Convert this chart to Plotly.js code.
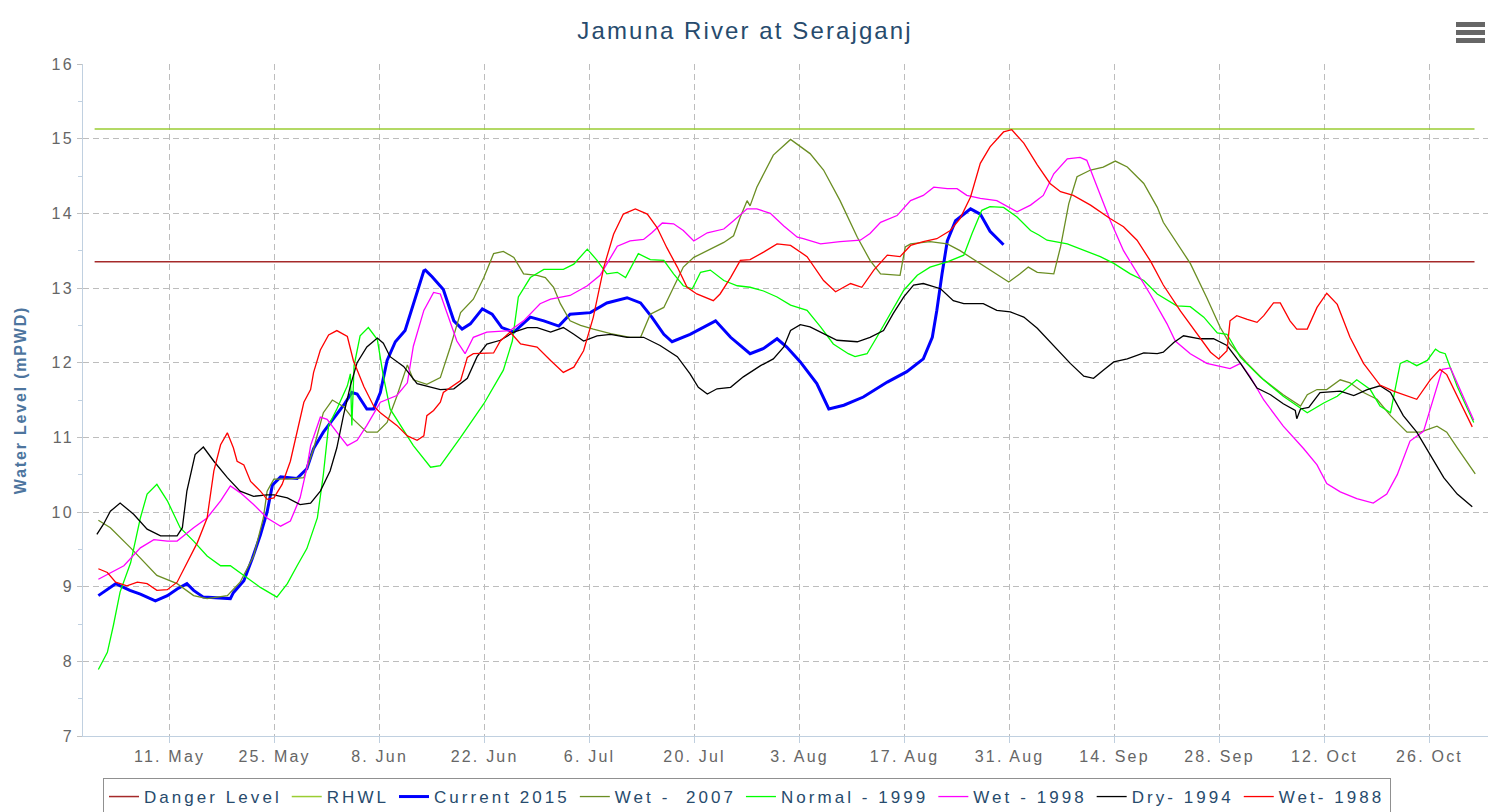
<!DOCTYPE html>
<html><head><meta charset="utf-8">
<script src="https://cdn.plot.ly/plotly-3.0.1.min.js"></script>
<style>
html,body{margin:0;padding:0;background:#fff;}
#chart{width:1499px;height:812px;}
.gtitle{letter-spacing:2.1px;}
.xtick text,.ytick text{letter-spacing:2.2px;}
.legendtext{letter-spacing:3.05px;}
.ytitle{letter-spacing:1.8px;}
</style></head><body><div id="chart"></div><script>
// Days counted from 1 May 2015; water levels in mPWD
const dangerLevel = 13.35;
const rhwlLevel = 15.13;
const refLineDays = [0, 184];

const tickDates = ['2015-05-11','2015-05-25','2015-06-08','2015-06-22','2015-07-06','2015-07-20','2015-08-03','2015-08-17','2015-08-31','2015-09-14','2015-09-28','2015-10-12','2015-10-26'];
const tickLabels = ['11. May','25. May','8. Jun','22. Jun','6. Jul','20. Jul','3. Aug','17. Aug','31. Aug','14. Sep','28. Sep','12. Oct','26. Oct'];

const dayCurrent2015 = [0.5,2.8,4.7,6.1,8.1,9.7,11.0,12.3,13.2,14.5,18.1,18.5,19.9,21.0,22.1,23.0,23.7,24.8,27.0,28.3,29.2,30.5,33.2,34.3,35.0,36.3,37.2,38.1,39.0,40.1,41.4,42.5,43.9,44.1,45.0,46.5,47.9,49.0,50.1,51.7,53.0,54.3,55.9,58.1,59.9,61.9,63.4,66.1,68.3,71.0,72.8,74.3,75.9,77.0,79.4,82.8,84.8,87.4,89.2,91.0,92.3,94.1,96.3,97.9,99.9,102.5,105.7,108.3,110.5,111.7,112.3,113.0,113.7,114.8,116.8,118.1,119.4,121.2];
const levelCurrent2015 = [8.88,9.04,8.95,8.9,8.81,8.88,8.97,9.04,8.95,8.86,8.84,8.92,9.08,9.37,9.69,10.0,10.36,10.47,10.45,10.58,10.85,11.07,11.43,11.6,11.58,11.38,11.38,11.6,12.03,12.28,12.43,12.79,13.23,13.24,13.15,12.98,12.56,12.45,12.52,12.72,12.65,12.47,12.41,12.61,12.56,12.49,12.65,12.67,12.8,12.87,12.8,12.61,12.38,12.28,12.38,12.56,12.34,12.12,12.19,12.32,12.21,12.01,11.72,11.38,11.43,11.54,11.74,11.88,12.05,12.34,12.7,13.19,13.63,13.9,14.06,13.99,13.76,13.58];

const dayWet2007 = [0.5,2.1,4.8,6.5,8.3,11.0,13.2,15.0,17.7,19.4,21.2,22.5,23.0,23.9,25.7,27.9,29.2,30.5,31.7,33.2,34.5,36.3,37.7,39.0,40.3,41.7,42.5,44.3,46.1,47.4,48.8,50.5,51.9,53.2,54.5,55.9,57.2,59.0,60.1,61.2,62.1,63.4,64.8,66.5,68.8,71.4,72.8,74.1,75.9,77.2,78.5,79.9,81.7,83.9,85.2,86.1,87.0,87.4,88.3,88.8,90.5,92.8,95.4,97.2,99.4,101.7,103.4,104.8,107.4,108.1,108.8,111.4,113.7,115.4,117.7,119.9,121.9,123.4,124.5,125.7,127.9,128.8,129.9,131.0,132.8,134.5,136.1,137.7,139.9,141.7,142.5,146.1,148.3,150.1,151.4,153.7,155.9,158.5,160.8,161.7,163.0,164.3,166.1,167.4,169.2,171.0,172.8,175.0,176.8,179.0,180.3,181.7,184.1];
const levelWet2007 = [9.89,9.79,9.52,9.34,9.15,9.04,8.88,8.84,8.88,9.06,9.41,9.92,10.28,10.44,10.44,10.46,10.85,11.33,11.5,11.41,11.24,11.07,11.07,11.2,11.55,11.97,11.77,11.71,11.8,12.2,12.67,12.85,13.14,13.46,13.49,13.41,13.19,13.17,13.14,13.01,12.79,12.56,12.5,12.45,12.39,12.34,12.34,12.65,12.74,13.01,13.28,13.41,13.5,13.61,13.7,13.95,14.17,14.1,14.35,14.45,14.78,14.99,14.8,14.58,14.17,13.68,13.37,13.19,13.17,13.55,13.59,13.62,13.59,13.5,13.35,13.21,13.08,13.19,13.28,13.21,13.19,13.55,14.13,14.49,14.58,14.62,14.7,14.62,14.4,14.08,13.88,13.33,12.87,12.47,12.25,11.99,11.77,11.57,11.42,11.57,11.64,11.64,11.77,11.73,11.6,11.51,11.29,11.07,11.07,11.15,11.07,10.86,10.51];

const dayNormal1999 = [0.5,1.7,2.5,3.4,4.8,6.1,7.0,8.3,9.7,11.4,13.2,15.0,16.8,18.1,19.9,22.1,24.3,25.7,27.0,28.3,29.7,30.5,31.2,32.3,33.7,34.1,34.3,34.6,35.4,36.5,37.7,38.5,39.4,40.8,42.5,44.8,46.1,48.8,51.9,54.5,55.7,56.5,58.1,59.9,62.5,63.9,65.7,67.0,68.3,69.7,70.8,72.5,74.1,75.9,77.2,78.5,79.7,80.8,82.1,83.9,85.7,87.4,89.2,91.0,92.8,95.0,96.8,98.5,100.5,101.4,103.0,104.3,106.1,107.9,109.7,111.4,113.7,115.9,117.0,118.3,119.4,121.2,123.0,124.8,125.9,127.0,129.7,131.9,134.1,135.9,138.1,139.9,141.7,144.3,146.1,147.9,149.7,151.0,152.8,155.4,158.5,161.7,163.9,165.7,168.3,170.1,171.4,172.8,174.1,175.0,176.3,177.7,178.8,179.4,180.1,181.7,183.9];
const levelNormal1999 = [7.89,8.12,8.48,8.93,9.32,9.92,10.24,10.37,10.15,9.79,9.61,9.41,9.28,9.28,9.15,8.99,8.86,9.04,9.28,9.51,9.92,10.5,11.16,11.38,11.69,11.85,11.16,11.96,12.36,12.47,12.31,11.82,11.38,11.16,10.89,10.6,10.62,11.0,11.45,11.9,12.29,12.88,13.14,13.25,13.25,13.32,13.52,13.37,13.19,13.21,13.14,13.46,13.38,13.37,13.19,13.03,12.99,13.21,13.24,13.1,13.03,13.01,12.96,12.88,12.77,12.7,12.48,12.25,12.12,12.08,12.12,12.34,12.66,12.97,13.17,13.28,13.35,13.44,13.73,14.04,14.09,14.08,13.95,13.77,13.71,13.64,13.59,13.5,13.42,13.33,13.19,13.1,12.92,12.76,12.75,12.61,12.4,12.38,12.07,11.81,11.55,11.33,11.46,11.55,11.77,11.64,11.42,11.33,11.99,12.03,11.96,12.03,12.18,12.14,12.12,11.68,11.2];

const dayWet1998 = [0.5,2.1,3.9,6.1,7.9,9.7,11.0,13.2,15.0,16.8,18.1,19.4,21.2,23.0,24.8,26.1,27.4,28.3,28.8,30.1,31.0,32.3,33.7,35.0,36.3,38.1,40.3,41.7,42.5,43.9,45.2,46.1,47.4,48.3,49.4,50.5,52.3,55.4,57.2,59.4,60.8,63.4,65.7,67.4,69.7,71.4,73.2,74.3,75.7,77.2,78.5,79.9,81.7,83.9,85.2,87.0,88.3,90.1,91.9,93.7,94.5,96.8,99.4,102.1,103.4,104.8,107.0,108.8,110.5,111.9,113.7,115.0,116.3,118.1,120.3,123.0,124.8,126.5,127.9,129.7,131.4,132.3,133.7,135.4,137.2,139.4,140.8,143.0,144.1,146.1,148.3,151.4,152.8,154.1,155.9,158.5,161.2,163.0,164.3,166.1,168.3,170.5,172.3,173.7,175.4,177.2,178.1,179.0,179.7,180.8,182.1,183.9];
const levelWet1998 = [9.1,9.19,9.28,9.52,9.63,9.61,9.61,9.79,9.92,10.15,10.35,10.26,10.1,9.92,9.81,9.88,10.19,10.59,10.89,11.27,11.24,11.07,10.89,10.96,11.16,11.47,11.56,11.73,12.22,12.7,12.94,12.92,12.56,12.29,12.12,12.34,12.41,12.43,12.56,12.79,12.85,12.9,13.03,13.17,13.56,13.63,13.65,13.74,13.87,13.86,13.77,13.63,13.74,13.79,13.9,14.06,14.06,14.0,13.83,13.68,13.66,13.59,13.62,13.64,13.73,13.88,13.97,14.17,14.24,14.35,14.33,14.33,14.24,14.2,14.17,14.02,14.11,14.24,14.53,14.73,14.75,14.71,14.35,13.91,13.5,13.15,12.91,12.52,12.29,12.12,11.99,11.92,11.99,11.81,11.5,11.15,10.85,10.63,10.38,10.27,10.18,10.12,10.24,10.5,10.95,11.08,11.38,11.69,11.91,11.93,11.64,11.23];

const dayDry1994 = [0.3,1.2,2.1,3.4,5.2,7.0,8.8,11.0,11.7,12.3,13.4,14.5,15.9,17.7,19.4,21.2,23.0,23.9,25.7,27.4,28.8,30.1,31.4,32.3,33.2,34.1,35.0,36.3,37.7,38.5,39.4,41.2,43.0,45.2,46.1,47.9,49.7,51.0,52.3,54.1,55.9,57.7,59.0,60.8,62.5,63.9,65.2,67.0,68.8,71.0,73.2,75.4,77.7,79.4,80.5,81.7,83.0,84.8,86.5,88.8,90.5,91.9,92.8,94.1,95.4,97.2,99.0,101.7,103.4,105.2,106.5,107.9,109.2,110.5,112.8,114.5,115.9,118.5,120.3,122.1,123.9,125.7,127.9,130.1,131.9,133.2,134.5,135.9,137.7,139.9,141.7,142.5,143.9,145.2,147.4,149.2,151.0,152.8,155.0,156.8,158.5,160.1,160.3,160.8,161.9,163.4,166.1,167.9,169.7,171.4,172.8,174.5,176.3,178.1,179.9,181.7,183.7];
const levelDry1994 = [9.7,9.84,10.01,10.12,9.97,9.77,9.68,9.68,9.79,10.28,10.77,10.87,10.68,10.46,10.28,10.21,10.23,10.23,10.19,10.1,10.12,10.28,10.55,10.86,11.3,11.69,12.0,12.21,12.33,12.26,12.08,11.95,11.72,11.66,11.64,11.65,11.79,12.08,12.25,12.3,12.41,12.47,12.47,12.41,12.47,12.38,12.29,12.36,12.38,12.34,12.34,12.23,12.08,11.85,11.67,11.58,11.65,11.67,11.81,11.96,12.05,12.21,12.43,12.51,12.48,12.39,12.3,12.28,12.34,12.43,12.66,12.88,13.04,13.06,12.99,12.83,12.79,12.79,12.7,12.68,12.61,12.46,12.23,11.99,11.82,11.79,11.9,12.01,12.05,12.13,12.12,12.14,12.27,12.36,12.32,12.32,12.23,11.99,11.66,11.57,11.45,11.36,11.25,11.38,11.4,11.6,11.62,11.56,11.64,11.69,11.6,11.29,11.07,10.77,10.46,10.24,10.07];

const dayWet1988 = [0.5,1.7,2.8,4.3,5.7,7.0,8.3,9.7,11.0,12.3,13.7,15.0,15.9,16.8,17.7,18.5,19.0,19.9,20.8,22.1,23.0,23.9,25.0,26.1,27.0,27.9,28.8,29.2,30.1,31.2,32.3,33.7,34.5,35.9,37.2,38.1,40.3,41.7,43.0,43.9,44.3,45.2,46.1,46.5,48.8,49.7,50.5,53.2,54.1,55.4,56.8,59.0,60.8,62.5,63.9,65.2,66.5,67.9,69.2,70.5,72.1,73.7,75.0,76.3,77.7,79.0,80.3,82.5,83.4,84.8,86.1,87.4,89.2,91.0,92.8,95.0,97.2,98.8,100.8,102.3,103.9,105.7,107.4,108.8,110.5,112.3,114.1,115.4,116.8,118.1,119.4,121.2,122.3,123.9,125.7,127.4,128.8,130.5,132.8,135.4,137.2,139.0,140.8,142.5,144.8,147.0,148.8,149.9,151.0,151.4,152.3,153.7,155.0,155.9,157.2,158.1,159.4,160.3,161.7,163.0,164.3,165.7,167.4,169.2,171.4,173.2,175.0,176.3,178.1,179.4,180.3,182.1,183.7];
const levelWet1988 = [9.24,9.19,9.06,9.01,9.06,9.04,8.95,8.96,9.06,9.32,9.59,9.92,10.55,10.9,11.06,10.86,10.68,10.63,10.41,10.28,10.17,10.19,10.37,10.68,11.07,11.47,11.64,11.87,12.17,12.37,12.43,12.35,12.03,11.68,11.42,11.33,11.16,11.02,10.96,11.02,11.29,11.36,11.47,11.6,11.76,12.07,12.12,12.13,12.29,12.41,12.25,12.21,12.03,11.87,11.94,12.16,12.61,13.28,13.72,13.99,14.06,13.99,13.81,13.54,13.28,13.01,12.92,12.83,12.92,13.14,13.37,13.38,13.48,13.59,13.57,13.42,13.1,12.95,13.06,13.01,13.24,13.44,13.42,13.57,13.62,13.66,13.77,13.93,14.22,14.67,14.89,15.09,15.12,14.94,14.65,14.4,14.29,14.24,14.11,13.93,13.82,13.64,13.36,13.04,12.69,12.38,12.14,12.05,12.16,12.56,12.63,12.58,12.54,12.63,12.8,12.8,12.56,12.45,12.45,12.74,12.93,12.78,12.34,11.99,11.7,11.62,11.55,11.51,11.77,11.91,11.84,11.47,11.14];

const baseTime = Date.UTC(2015, 4, 1);
function dayToDate(d) {
  const t = new Date(baseTime + d * 86400000);
  return t.toISOString().slice(0, 16).replace('T', ' ');
}

const FONT = '"Liberation Sans", Arial, Helvetica, sans-serif';

const seriesDefs = [
  {name: 'Danger Level', days: refLineDays, levels: refLineDays.map(() => dangerLevel), color: '#A52A2A', width: 1.5},
  {name: 'RHWL', days: refLineDays, levels: refLineDays.map(() => rhwlLevel), color: '#9ACD32', width: 1.5},
  {name: 'Current 2015', days: dayCurrent2015, levels: levelCurrent2015, color: '#0000FF', width: 3},
  {name: 'Wet -  2007', days: dayWet2007, levels: levelWet2007, color: '#6B8E23', width: 1.3},
  {name: 'Normal - 1999', days: dayNormal1999, levels: levelNormal1999, color: '#00FF00', width: 1.3},
  {name: 'Wet - 1998', days: dayWet1998, levels: levelWet1998, color: '#FF00FF', width: 1.3},
  {name: 'Dry- 1994', days: dayDry1994, levels: levelDry1994, color: '#000000', width: 1.3},
  {name: 'Wet- 1988', days: dayWet1988, levels: levelWet1988, color: '#FF0000', width: 1.3}
];

const traces = seriesDefs.map(s => ({
  type: 'scatter', mode: 'lines', name: s.name,
  x: s.days.map(dayToDate), y: s.levels,
  line: {color: s.color, width: s.width},
  hoverinfo: 'skip'
}));

// plot area in px: x 83..1488, y 64..736
function px2paperX(px) { return (px - 83) / 1405; }
function px2paperY(py) { return (736 - py) / 672; }
const menuBars = [[22, 27], [30, 35], [38, 43]].map(b => ({
  type: 'rect', xref: 'paper', yref: 'paper',
  x0: px2paperX(1456), x1: px2paperX(1485),
  y0: px2paperY(b[1]), y1: px2paperY(b[0]),
  fillcolor: '#666666', line: {width: 0}
}));

const gridStyle = {gridcolor: '#BDBDBD', griddash: '6px,4px', gridwidth: 1};

const layout = {
  width: 1499, height: 812,
  paper_bgcolor: '#FFFFFF', plot_bgcolor: '#FFFFFF',
  margin: {l: 83, r: 11, t: 64, b: 76, autoexpand: false},
  font: {family: FONT, color: '#666666'},
  title: {
    text: 'Jamuna River at Serajganj',
    font: {family: FONT, size: 24, color: '#274B6D'},
    xref: 'container', x: 0.497, xanchor: 'center',
    yref: 'container', y: 1 - 31 / 812, yanchor: 'middle'
  },
  xaxis: Object.assign({
    type: 'date',
    range: ['2015-04-29 10:48', '2015-11-02 19:12'],
    tickmode: 'array', tickvals: tickDates, ticktext: tickLabels,
    showgrid: true, showline: true, linecolor: '#C0D0E0', linewidth: 1,
    ticks: 'outside', ticklen: 6, tickcolor: '#C0D0E0',
    tickfont: {family: FONT, size: 16, color: '#666666'},
    zeroline: false, fixedrange: true
  }, gridStyle),
  yaxis: Object.assign({
    range: [7, 16], tick0: 7, dtick: 1,
    showgrid: true, showline: true, linecolor: '#C0D0E0', linewidth: 1,
    ticks: 'outside', ticklen: 5, tickcolor: '#C0C0C0',
    minor: {dtick: 0.5, ticks: 'outside', ticklen: 4, tickcolor: '#C0D0E0', showgrid: false},
    tickfont: {family: FONT, size: 16, color: '#666666'},
    zeroline: false, fixedrange: true,
    title: {text: 'Water Level (mPWD)', font: {family: FONT, size: 16, color: '#4D759E', weight: 'bold'}, standoff: 20}
  }, gridStyle),
  showlegend: true,
  legend: {
    orientation: 'h', xref: 'paper', yref: 'paper',
    x: px2paperX(103), xanchor: 'left',
    y: px2paperY(778), yanchor: 'top',
    bordercolor: '#909090', borderwidth: 1, bgcolor: '#FFFFFF',
    font: {family: FONT, size: 17, color: '#274B6D'},
    traceorder: 'normal'
  },
  shapes: menuBars
};

Plotly.newPlot('chart', traces, layout, {displayModeBar: false, staticPlot: true});
</script></body></html>
